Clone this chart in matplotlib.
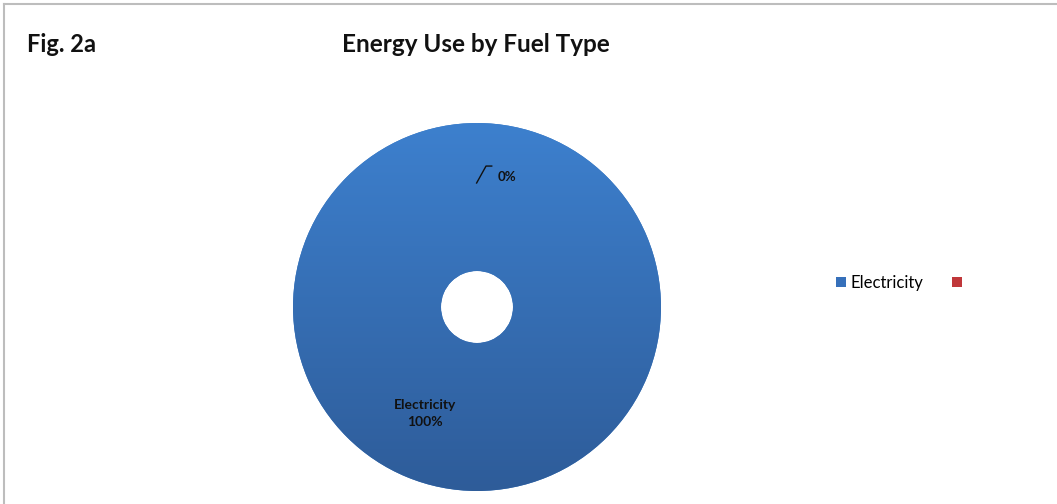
import matplotlib
matplotlib.use("Agg")
import matplotlib.pyplot as plt
import numpy as np
from matplotlib.colors import LinearSegmentedColormap
from matplotlib.lines import Line2D
from matplotlib.patches import Rectangle

# Energy use by fuel type (share of total)
fuel_types = ["Electricity", ""]
usage = [100, 0]
slice_colors = ["#3A78C2", "#C0373A"]

W, H = 1057, 504
fig = plt.figure(figsize=(W / 100, H / 100), dpi=100)
fig.patch.set_facecolor("white")
plt.rcParams["font.family"] = ["Lato", "DejaVu Sans"]

# outer frame (top and left edges visible)
fig.add_artist(Line2D([4 / W, 4 / W], [0, 1 - 4 / H], transform=fig.transFigure,
                      color="#BDBDBD", lw=1.5))
fig.add_artist(Line2D([4 / W, 1], [1 - 4 / H, 1 - 4 / H], transform=fig.transFigure,
                      color="#BDBDBD", lw=1.5))

# donut axes: centre (477, 307) px, radius 184 px
cx, cy, r = 477, 307, 184
ax = fig.add_axes([(cx - r) / W, (H - cy - r) / H, 2 * r / W, 2 * r / H])
ax.set_xlim(-1, 1)
ax.set_ylim(-1, 1)
ax.set_aspect("equal")
ax.axis("off")

hole = 36 / r
wedges, _ = ax.pie(usage, colors=slice_colors, startangle=90, counterclock=False,
                   radius=1.0, wedgeprops=dict(width=1 - hole, linewidth=0))
ax.set_xlim(-1, 1)
ax.set_ylim(-1, 1)

# vertical shading on the main ring
shade = LinearSegmentedColormap.from_list("shade", ["#2E5C99", "#3D80CE"])
grad = np.linspace(0, 1, 256).reshape(-1, 1)
img = ax.imshow(grad, cmap=shade, extent=[-1, 1, -1, 1], origin="lower",
                aspect="auto", zorder=wedges[0].get_zorder() + 0.1)
img.set_clip_path(wedges[0])

total = sum(usage)
pct = [f"{v / total * 100:.0f}%" for v in usage]

ax.text(-0.283, -0.58, f"{fuel_types[0]}\n{pct[0]}", ha="center", va="center",
        fontsize=10, fontweight="bold", color="#111111", linespacing=1.45, zorder=5)

# leader line and label for the empty slice
ax.plot([-0.002, 0.049, 0.08], [0.674, 0.766, 0.766], color="#111111", lw=1.0, zorder=5)
ax.text(0.11, 0.705, pct[1], ha="left", va="center", fontsize=9.5,
        fontweight="bold", color="#111111", zorder=5)

fig.text(27 / W, 1 - 44 / H, "Fig. 2a", ha="left", va="center", fontsize=17,
         fontweight="bold", color="#111111")
fig.text(476 / W, 1 - 44 / H, "Energy Use by Fuel Type", ha="center", va="center",
         fontsize=17.5, fontweight="bold", color="#111111")

# legend
handles = [Rectangle((0, 0), 1, 1, facecolor=c, edgecolor="none") for c in slice_colors]
handles[0].set_facecolor("#3670BA")
fig.legend(handles, fuel_types, loc="center left", bbox_to_anchor=(836 / W, 1 - 283 / H),
           ncol=2, frameon=False, fontsize=12, handlelength=0.6, handleheight=0.6,
           handletextpad=0.3, columnspacing=1.7, borderpad=0, borderaxespad=0)

fig.savefig("out.png", dpi=100)
